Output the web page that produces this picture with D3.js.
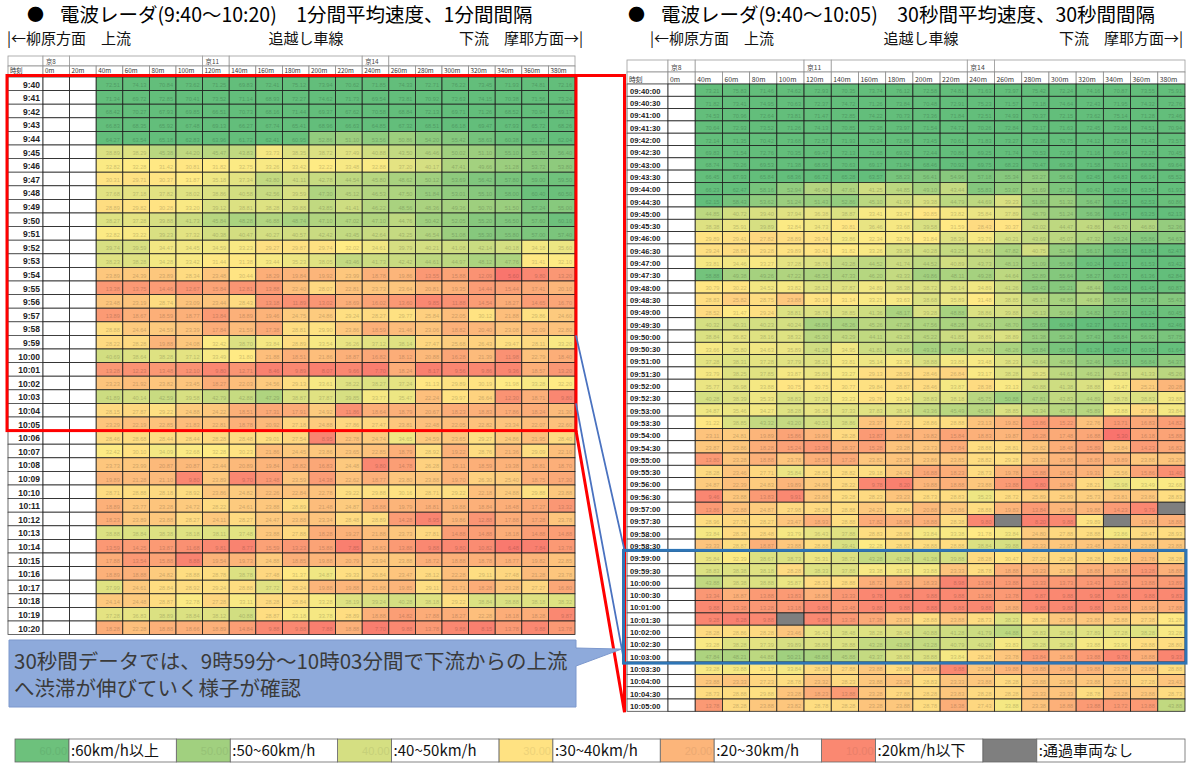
<!DOCTYPE html>
<html>
<head>
<meta charset="utf-8">
<script src="https://cdn.jsdelivr.net/npm/d3@7"></script>
<style>
  body { margin: 0; background: #fff; }
  svg { display: block; }
</style>
</head>
<body>
<svg id="chart" width="1189" height="765"></svg>
<script>
// ---- Column categories (distance from 京8) ----
const leftCols = ["0m","20m","40m","60m","80m","100m","120m","140m","160m","180m","200m","220m","240m","260m","280m","300m","320m","340m","360m","380m"];
const rightCols = ["0m","40m","60m","80m","100m","120m","140m","160m","180m","200m","220m","240m","260m","280m","300m","320m","340m","360m","380m"];
const measuredCols = ["40m","60m","80m","100m","120m","140m","160m","180m","200m","220m","240m","260m","280m","300m","320m","340m","360m","380m"];
const stationCols = ["0m","120m","240m"];
const stationNames = ["京8","京11","京14"];

// ---- 1-minute averages (km/h), 9:40-10:20 ----
const leftTimes = ["9:40","9:41","9:42","9:43","9:44","9:45","9:46","9:47","9:48","9:49","9:50","9:51","9:52","9:53","9:54","9:55","9:56","9:57","9:58","9:59","10:00","10:01","10:02","10:03","10:04","10:05","10:06","10:07","10:08","10:09","10:10","10:11","10:12","10:13","10:14","10:15","10:16","10:17","10:18","10:19","10:20"];
const leftSpeeds = [
  [72.51,74.13,70.84,73.62,71.25,69.83,72.41,75.12,73.94,70.62,71.85,74.33,72.71,76.22,73.45,71.93,74.81,72.16],
  [71.34,69.72,72.85,70.41,73.52,71.14,68.93,72.27,74.62,71.73,69.54,73.81,70.92,72.63,74.15,70.38,71.56,73.24],
  [68.42,70.27,67.93,69.85,66.51,70.73,68.16,71.44,69.37,67.62,70.58,68.84,72.13,69.71,71.26,68.52,70.94,69.17],
  [66.83,68.35,65.92,67.48,69.13,66.27,67.74,65.41,68.96,66.63,64.85,67.32,68.51,66.18,69.47,67.93,65.72,68.26],
  [64.27,63.54,65.18,62.83,63.96,61.72,62.41,60.95,52.86,51.10,53.56,50.86,54.20,55.42,58.63,60.38,61.27,62.04],
  [38.89,38.29,45.38,44.20,45.47,43.83,33.73,38.35,38.72,37.49,40.88,43.50,46.46,50.02,51.10,55.10,55.70,56.40],
  [32.82,32.28,31.42,30.81,31.82,32.75,33.26,33.42,32.22,33.48,32.88,37.20,40.17,47.41,49.66,51.28,53.72,53.80],
  [30.31,29.71,30.37,31.87,35.18,37.34,43.80,41.11,42.78,44.54,45.80,48.62,50.12,53.69,56.42,57.80,59.00,59.50],
  [37.68,37.18,37.82,38.02,38.86,40.58,42.56,39.59,47.30,45.12,46.53,47.50,51.84,53.01,55.10,58.00,60.40,60.50],
  [28.89,29.82,30.28,33.20,39.12,38.81,38.28,39.88,43.85,41.41,46.22,48.56,48.36,49.36,50.70,51.50,57.24,55.00],
  [38.27,37.28,39.88,41.73,45.84,48.28,46.88,48.74,47.10,47.02,47.10,44.76,50.42,52.05,55.20,56.50,57.60,60.10],
  [32.82,33.22,39.23,37.32,40.38,40.47,40.27,40.57,42.42,43.45,42.64,43.25,46.54,51.08,55.30,55.80,57.00,57.40],
  [39.74,39.59,34.47,34.45,34.59,33.23,29.27,29.87,29.74,32.02,34.61,39.79,40.21,41.08,42.14,40.18,34.18,35.60],
  [38.23,38.28,34.28,33.42,31.44,31.38,33.44,35.23,38.05,43.46,41.73,42.42,44.61,44.97,48.12,47.76,31.41,32.10],
  [23.89,24.39,23.89,28.34,23.48,30.44,18.29,19.84,19.92,23.99,18.78,19.86,13.55,15.88,12.09,5.60,9.80,13.20],
  [13.38,13.75,14.46,12.67,15.84,12.81,13.88,22.40,28.07,22.81,23.73,23.64,20.81,19.35,14.44,15.44,17.41,20.10],
  [23.48,23.19,28.74,23.09,23.44,28.43,13.18,11.89,13.02,18.69,16.02,13.60,9.85,11.88,14.54,18.27,14.65,16.70],
  [13.89,18.67,18.59,18.77,13.84,18.89,19.46,24.75,24.86,29.24,28.27,29.77,25.84,22.05,30.12,21.88,29.86,24.60],
  [28.88,24.64,24.59,23.39,17.84,21.59,17.38,28.81,29.90,23.86,18.59,21.46,23.06,18.82,20.40,23.08,22.09,22.80],
  [28.22,28.28,19.88,24.08,32.42,38.70,33.84,28.89,33.54,36.26,37.12,38.14,27.47,25.68,26.43,29.47,28.11,33.20],
  [40.69,38.64,38.28,37.12,33.49,31.80,21.88,18.51,21.86,18.87,16.82,18.12,20.88,16.28,21.39,11.98,22.79,18.40],
  [13.28,12.23,13.48,12.10,9.80,12.71,8.46,9.89,8.07,9.66,7.70,18.24,8.17,9.56,9.86,9.36,18.57,13.20],
  [23.23,21.92,23.82,23.45,18.27,22.03,24.56,29.13,33.61,38.22,38.27,37.24,31.13,29.89,30.19,31.98,33.28,32.20],
  [41.89,40.14,42.59,39.58,42.79,42.88,47.29,38.87,37.87,39.85,33.77,35.47,22.24,29.97,26.64,12.30,18.71,9.80],
  [28.15,27.87,29.22,24.88,24.22,18.51,17.31,17.91,24.92,11.86,18.64,18.79,20.67,18.23,18.83,17.86,18.24,21.30],
  [23.29,22.19,22.85,21.83,22.81,18.78,20.92,27.18,24.88,27.86,27.47,23.81,22.48,22.05,22.82,23.34,22.07,22.60],
  [28.46,28.68,28.44,28.44,28.28,28.48,29.01,27.54,8.95,22.78,24.74,34.65,24.59,23.65,29.27,24.86,21.95,28.40],
  [32.42,30.10,34.09,32.68,32.28,30.23,21.86,24.45,23.86,23.65,22.85,18.79,28.92,19.22,28.76,21.36,29.09,22.10],
  [23.73,23.99,20.87,20.87,23.44,20.89,19.84,18.82,16.83,24.48,9.80,14.78,26.28,19.11,18.59,19.38,18.81,18.70],
  [19.89,21.28,21.10,9.80,23.89,9.70,13.48,23.59,14.38,22.62,18.77,23.80,23.88,19.70,26.30,25.40,18.75,17.30],
  [28.71,28.88,28.18,28.92,23.86,24.82,22.26,22.84,22.78,29.22,29.88,30.16,28.71,29.22,22.18,24.88,29.88,23.88],
  [18.89,23.77,23.28,24.72,28.22,24.61,23.88,28.89,21.48,24.87,18.88,19.79,18.81,19.88,18.84,18.48,17.27,13.32],
  [18.23,23.89,23.88,28.27,24.11,28.27,24.47,23.88,23.34,28.48,28.89,14.28,8.95,19.86,12.88,17.88,17.28,23.78],
  [38.88,38.84,38.38,38.18,38.11,37.48,23.88,27.88,18.28,19.27,21.88,23.73,27.81,14.88,14.88,18.18,14.88,14.88],
  [13.59,14.25,13.87,11.68,9.81,8.77,15.59,13.23,15.88,7.85,18.83,13.88,9.88,9.80,10.82,6.48,7.84,13.78],
  [17.88,13.54,15.88,8.88,19.54,19.73,24.88,18.85,19.88,20.79,23.94,23.88,18.72,18.88,18.78,18.77,19.82,22.85],
  [18.89,18.88,24.82,28.88,28.78,38.78,27.48,31.37,34.87,29.33,26.84,23.47,28.12,22.28,29.11,27.48,21.28,23.78],
  [37.99,24.61,28.84,28.92,29.24,28.88,37.72,28.24,19.88,19.88,21.88,19.85,29.11,21.71,18.28,23.28,27.27,16.80],
  [24.14,24.48,28.87,32.78,27.28,33.11,28.28,28.84,33.28,38.19,39.24,40.28,38.18,29.22,38.84,38.88,38.18,38.32],
  [37.28,36.83,38.89,38.84,38.12,40.88,28.87,33.18,33.78,28.89,18.88,14.82,17.88,18.27,22.28,18.18,18.28,9.87],
  [18.28,22.28,18.88,18.66,18.89,14.84,9.88,9.88,7.88,18.88,7.70,9.88,13.78,9.88,8.15,13.78,9.88,13.78]
];

// ---- 30-second averages (km/h), 9:40:00-10:05:00; null = no vehicle passed ----
const rightTimes = ["09:40:00","09:40:30","09:41:00","09:41:30","09:42:00","09:42:30","09:43:00","09:43:30","09:44:00","09:44:30","09:45:00","09:45:30","09:46:00","09:46:30","09:47:00","09:47:30","09:48:00","09:48:30","09:49:00","09:49:30","09:50:00","09:50:30","09:51:00","09:51:30","09:52:00","09:52:30","09:53:00","09:53:30","09:54:00","09:54:30","09:55:00","09:55:30","09:56:00","09:56:30","09:57:00","09:57:30","09:58:00","09:58:30","09:59:00","09:59:30","10:00:00","10:00:30","10:01:00","10:01:30","10:02:00","10:02:30","10:03:00","10:03:30","10:04:00","10:04:30","10:05:00"];
const rightSpeeds = [
  [73.21,75.83,71.46,74.62,72.93,70.35,73.74,76.12,72.58,74.81,71.63,73.97,75.42,72.24,74.16,70.87,73.55,75.91],
  [71.82,73.41,74.95,70.63,72.37,74.72,71.26,73.84,70.48,72.91,75.23,71.57,73.18,74.64,72.43,71.95,74.32,72.76],
  [74.53,70.96,72.64,73.81,71.47,72.85,74.22,70.73,73.36,71.84,72.51,74.93,70.37,72.15,73.62,75.14,71.28,73.46],
  [70.64,72.93,73.52,71.26,74.13,70.85,72.38,73.97,71.54,74.72,70.26,72.84,73.17,71.63,72.45,73.86,74.51,70.94],
  [72.14,71.35,70.42,73.68,72.57,71.93,70.24,72.86,73.45,70.61,71.83,73.27,72.36,70.75,74.12,72.68,71.43,73.57],
  [69.83,71.54,72.76,70.35,69.47,72.13,71.68,69.92,72.44,70.86,69.25,71.74,70.53,72.97,71.16,69.64,72.28,70.45],
  [68.74,70.26,69.53,71.38,68.95,70.63,69.17,71.84,68.46,70.92,69.75,68.23,70.47,69.36,71.58,70.13,68.82,69.64],
  [66.45,67.93,65.84,68.36,66.72,65.28,63.57,58.23,56.41,54.96,57.18,55.34,53.27,58.62,62.45,64.83,66.14,65.52],
  [66.23,62.47,58.16,52.94,46.40,47.61,41.25,44.85,49.10,43.44,55.83,53.07,51.69,57.21,60.42,62.86,63.54,61.93],
  [62.15,58.43,53.62,51.24,51.43,52.86,45.10,41.09,39.38,44.79,44.69,39.23,51.80,51.32,56.47,61.25,62.53,60.86],
  [44.85,40.72,39.40,37.94,36.38,38.87,33.41,33.47,30.85,33.82,35.84,37.89,48.79,51.24,56.36,61.47,63.25,62.13],
  [38.38,35.91,39.89,32.84,34.73,30.81,36.46,33.68,39.58,31.59,28.43,30.37,43.02,44.47,43.86,46.70,46.80,52.36],
  [29.89,29.41,27.82,28.89,29.74,33.86,32.34,32.76,31.84,38.39,33.79,40.21,43.69,45.07,47.32,53.24,55.86,54.63],
  [29.24,28.89,29.28,29.89,30.41,31.82,33.26,39.38,40.28,43.25,41.86,47.82,40.75,52.44,56.17,60.35,61.84,62.47],
  [33.81,34.46,33.27,37.28,38.76,43.28,44.52,41.74,44.52,40.89,43.73,48.13,51.09,55.86,60.24,62.17,61.53,63.42],
  [58.88,49.38,49.26,47.22,48.35,47.33,46.20,43.33,49.86,48.11,49.28,44.64,52.89,55.64,58.27,60.73,61.36,62.84],
  [30.79,30.22,34.52,33.82,38.12,37.87,34.89,38.38,38.72,38.14,34.89,41.26,53.43,55.21,48.44,60.26,61.45,60.87],
  [28.83,25.82,28.75,23.88,30.19,31.14,33.21,33.63,38.68,35.89,31.48,38.85,45.17,48.89,46.89,53.85,57.28,55.43],
  [28.52,31.47,29.24,38.81,38.78,38.85,41.36,48.17,39.28,48.88,38.86,39.88,45.13,50.66,54.82,57.93,61.24,60.45],
  [40.32,40.31,40.23,40.24,48.89,48.26,45.26,47.28,47.56,48.28,46.23,48.70,55.63,60.84,62.37,61.72,63.15,62.46],
  [38.84,36.82,38.16,38.32,45.30,43.29,44.11,43.28,45.22,41.85,38.89,38.89,51.38,55.26,57.43,58.84,56.92,57.75],
  [33.66,35.80,34.63,35.89,41.28,34.95,41.81,43.66,49.31,47.86,44.70,48.26,53.84,58.03,61.26,62.47,60.93,61.64],
  [37.28,38.31,37.28,37.79,38.21,33.81,35.14,33.38,38.88,33.88,33.48,38.23,43.64,48.88,52.46,55.13,56.84,54.37],
  [33.79,38.25,37.85,33.87,35.89,33.27,29.13,28.59,28.46,26.84,33.17,38.28,38.25,44.61,46.21,43.38,41.33,45.26],
  [35.77,36.98,33.88,30.75,30.75,30.77,29.84,28.87,28.46,33.87,28.38,33.13,40.88,41.38,38.88,33.47,25.21,20.28],
  [40.28,38.39,35.33,38.83,37.33,33.23,29.76,33.34,38.83,38.18,45.75,50.88,47.81,43.83,44.89,38.78,38.83,33.88],
  [34.87,35.46,34.27,38.28,36.38,37.33,37.83,38.14,43.36,45.49,45.83,38.85,43.34,45.73,45.89,33.88,27.88,33.84],
  [31.22,38.85,43.32,43.20,40.53,38.86,23.37,27.23,28.86,28.88,23.13,19.82,13.86,15.22,22.76,13.71,16.83,14.82],
  [23.11,24.81,19.89,15.86,19.89,28.28,13.87,18.89,19.82,15.84,18.83,19.87,16.28,17.48,16.88,5.30,16.18,15.88],
  [23.87,23.86,18.28,15.24,13.38,18.37,15.28,23.28,23.73,17.84,28.88,28.81,23.82,18.48,15.89,23.84,14.23,16.82],
  [13.80,23.28,18.88,23.78,18.53,17.29,23.82,23.28,23.86,23.85,28.82,29.28,23.33,19.88,18.89,19.89,23.88,23.29],
  [28.28,23.46,27.71,35.84,28.85,28.82,29.18,24.43,16.88,18.23,28.73,19.78,15.88,18.62,19.31,25.56,15.86,11.40],
  [24.87,22.39,24.83,19.89,24.88,28.22,9.78,8.20,19.88,18.88,23.88,13.88,9.80,18.84,28.21,35.98,33.49,32.68],
  [9.46,23.88,13.83,9.91,23.88,29.28,28.23,23.23,28.73,28.83,35.23,28.72,25.89,25.89,25.73,23.81,23.86,28.83],
  [13.86,22.88,24.87,27.98,28.28,28.88,24.23,27.84,20.88,23.86,28.88,19.83,13.84,19.88,19.88,14.23,9.79,null],
  [28.96,27.78,28.27,23.47,18.93,28.88,17.82,18.88,18.88,28.38,9.80,null,8.20,9.88,29.89,null,19.88,18.88],
  [33.84,28.38,28.48,33.79,36.43,37.88,28.83,28.88,33.84,33.38,31.78,33.84,24.80,27.88,28.88,33.86,28.47,28.93],
  [23.33,28.87,18.87,23.88,28.88,39.41,32.28,28.83,28.88,28.88,38.84,39.88,23.33,23.87,23.48,23.28,23.88,23.88],
  [35.84,32.39,38.67,38.73,35.31,38.72,43.28,41.28,41.38,39.88,28.28,30.47,27.23,28.28,28.28,28.89,21.78,28.28],
  [38.83,38.38,38.18,28.28,38.33,37.88,33.38,33.83,33.88,23.33,28.78,18.88,19.23,23.88,18.88,18.88,13.28,18.88],
  [43.88,38.38,38.88,35.87,28.33,28.88,18.72,18.33,18.33,8.98,13.88,13.88,13.33,13.73,13.43,13.28,13.88,13.89],
  [13.34,18.87,13.88,13.83,18.88,13.33,9.78,9.88,9.88,9.88,13.88,13.78,9.87,9.88,9.98,9.88,9.88,9.83],
  [9.88,13.38,13.28,13.18,9.88,13.48,9.88,9.88,8.88,9.88,9.88,18.88,9.88,9.88,9.88,13.88,18.98,17.88],
  [9.28,8.28,9.88,null,9.88,13.38,17.38,23.83,28.88,23.88,28.73,38.23,28.38,23.88,23.88,25.88,27.38,31.28],
  [28.28,28.86,28.28,23.46,36.43,38.48,38.28,38.48,40.88,41.28,41.79,44.88,38.83,38.89,37.89,37.28,38.28,33.28],
  [33.28,38.28,37.39,39.89,38.88,38.88,43.28,43.88,43.28,40.79,40.28,33.83,38.28,38.28,33.88,33.96,28.88,28.80],
  [47.84,48.21,44.88,50.21,48.88,45.88,43.37,38.88,38.88,33.84,28.28,23.78,13.84,18.88,13.88,9.78,18.88,9.33],
  [33.28,33.88,31.17,33.84,28.33,27.88,23.88,28.88,23.88,9.88,23.88,19.88,19.88,19.88,19.88,23.38,23.88,28.88],
  [23.88,23.33,27.23,28.78,23.32,28.23,23.88,23.28,28.83,23.33,23.88,28.28,23.88,23.88,23.88,23.71,27.28,23.43],
  [28.73,28.88,29.88,23.28,18.23,13.88,23.28,27.88,28.28,23.83,28.28,28.28,23.33,23.33,28.78,23.28,23.88,28.73],
  [13.78,28.28,23.88,23.82,28.78,28.28,23.28,23.88,28.78,18.38,27.43,33.88,23.38,18.88,13.88,13.72,13.88,43.88]
];

// ---- Legend ----
const legendValues = [60, 50, 40, 30, 20, 10, null];
const legendLabels = [":60km/h以上", ":50~60km/h", ":40~50km/h", ":30~40km/h", ":20~30km/h", ":20km/h以下", ":通過車両なし"];

const annotationLines = ["30秒間データでは、9時59分～10時03分間で下流からの上流", "へ渋滞が伸びていく様子が確認"];

// ---- Shared styling ----
const jpFont = '"Noto Sans CJK JP", "Noto Sans", sans-serif';
const numFont = '"Liberation Sans", Arial, sans-serif';
const noDataColor = "#7f7f7f";
const speedColor = d3.scaleLinear()
  .domain([3, 32, 62])
  .range(["#F8696B", "#FFEB84", "#63BE7B"])
  .clamp(true);
const fillFor = v => (v === null ? noDataColor : speedColor(v));

const svg = d3.select("#chart");

function drawHeading(cfg) {
  const g = svg.append("g");
  g.append("text").attr("x", cfg.bulletX).attr("y", 21)
    .attr("font-family", jpFont).attr("font-size", 17).attr("fill", "#000").text("●");
  g.append("text").attr("x", cfg.titleX).attr("y", 22)
    .attr("font-family", jpFont).attr("font-size", 19.5).attr("fill", "#000").text(cfg.title);
  const sub = [
    { x: cfg.subLeft, anchor: "start", t: "|←柳原方面　上流" },
    { x: cfg.subMid, anchor: "middle", t: "追越し車線" },
    { x: cfg.subRight, anchor: "end", t: "下流　摩耶方面→|" }
  ];
  g.selectAll("text.sub").data(sub).join("text").attr("class", "sub")
    .attr("x", d => d.x).attr("y", 44).attr("text-anchor", d => d.anchor)
    .attr("font-family", jpFont).attr("font-size", 15).attr("fill", "#111")
    .text(d => d.t);
}

function drawTable(cfg) {
  const g = svg.append("g");
  const rowBottom = cfg.rowTop + cfg.rowH * cfg.times.length;
  const x = d3.scaleBand().domain(cfg.cols).range([cfg.colStart, cfg.colEnd]);
  const y = d3.scaleBand().domain(cfg.times).range([cfg.rowTop, rowBottom]);
  const bw = x.bandwidth(), bh = y.bandwidth();
  const h1Top = cfg.rowTop - cfg.hdr2H - cfg.hdr1H;
  const h2Top = cfg.rowTop - cfg.hdr2H;

  // station header row: station cells with merged blanks between them
  const segs = [{ x0: cfg.left, x1: cfg.colStart, label: "" }];
  let open = null;
  cfg.cols.forEach(c => {
    const k = stationCols.indexOf(c);
    if (k >= 0) {
      if (open !== null) { segs.push({ x0: open, x1: x(c), label: "" }); open = null; }
      segs.push({ x0: x(c), x1: x(c) + bw, label: stationNames[k] });
    } else if (open === null) {
      open = x(c);
    }
  });
  if (open !== null) segs.push({ x0: open, x1: cfg.colEnd, label: "" });

  g.selectAll("rect.h1").data(segs).join("rect").attr("class", "h1")
    .attr("x", d => d.x0).attr("y", h1Top).attr("width", d => d.x1 - d.x0).attr("height", cfg.hdr1H)
    .attr("fill", "#fff").attr("stroke", "#9c9c9c").attr("stroke-width", 0.8);
  g.selectAll("text.h1").data(segs.filter(d => d.label)).join("text").attr("class", "h1")
    .attr("x", d => d.x0 + 3).attr("y", h1Top + cfg.hdr1H - 2.5)
    .attr("font-family", jpFont).attr("font-size", cfg.hdrFont).attr("fill", "#444")
    .text(d => d.label);

  // distance header row
  const h2 = [{ x0: cfg.left, w: cfg.colStart - cfg.left, label: "時刻" }]
    .concat(cfg.cols.map(c => ({ x0: x(c), w: bw, label: c })));
  g.selectAll("rect.h2").data(h2).join("rect").attr("class", "h2")
    .attr("x", d => d.x0).attr("y", h2Top).attr("width", d => d.w).attr("height", cfg.hdr2H)
    .attr("fill", "#fff").attr("stroke", "#8c8c8c").attr("stroke-width", 0.8);
  g.selectAll("text.h2").data(h2).join("text").attr("class", "h2")
    .attr("x", d => d.x0 + 2).attr("y", h2Top + cfg.hdr2H - cfg.hdr2Base)
    .attr("font-family", jpFont).attr("font-size", cfg.hdrFont).attr("fill", "#333")
    .text(d => d.label);

  // time column
  g.selectAll("rect.tc").data(cfg.times).join("rect").attr("class", "tc")
    .attr("x", cfg.left).attr("y", d => y(d)).attr("width", cfg.colStart - cfg.left).attr("height", bh)
    .attr("fill", "#fff").attr("stroke", "#444").attr("stroke-width", 0.8);
  g.selectAll("text.tc").data(cfg.times).join("text").attr("class", "tc")
    .attr("x", cfg.timeAnchor === "end" ? cfg.colStart - 3 : cfg.left + 3)
    .attr("y", d => y(d) + bh - cfg.timeBase)
    .attr("text-anchor", cfg.timeAnchor)
    .attr("font-family", numFont).attr("font-size", cfg.timeFont).attr("font-weight", "bold")
    .attr("fill", "#222").text(d => d);

  // speed cells
  const cells = [];
  cfg.times.forEach((t, i) => {
    cfg.cols.forEach(c => {
      const m = measuredCols.indexOf(c);
      cells.push({ t, c, measured: m >= 0, v: m >= 0 ? cfg.speeds[i][m] : undefined });
    });
  });
  g.selectAll("rect.cell").data(cells).join("rect").attr("class", "cell")
    .attr("x", d => x(d.c)).attr("y", d => y(d.t)).attr("width", bw).attr("height", bh)
    .attr("fill", d => (d.measured ? fillFor(d.v) : "#fff"))
    .attr("stroke", "#1e1e1e").attr("stroke-width", 0.8);
  g.selectAll("text.cell").data(cells.filter(d => d.measured && d.v !== null)).join("text").attr("class", "cell")
    .attr("x", d => x(d.c) + bw - 3).attr("y", d => y(d.t) + bh - cfg.cellBase)
    .attr("text-anchor", "end")
    .attr("font-family", numFont).attr("font-size", 5.6)
    .attr("fill", d => d3.color(speedColor(d.v)).darker(0.55).formatHex())
    .text(d => d.v.toFixed(2));

  return { x, y, bw, bh };
}

drawHeading({
  bulletX: 27, titleX: 60,
  title: "電波レーダ(9:40～10:20)　1分間平均速度、1分間間隔",
  subLeft: 7, subMid: 306, subRight: 583
});
drawHeading({
  bulletX: 628, titleX: 661,
  title: "電波レーダ(9:40～10:05)　30秒間平均速度、30秒間間隔",
  subLeft: 650, subMid: 921, subRight: 1183
});

const L = drawTable({
  left: 8, colStart: 43, colEnd: 575,
  rowTop: 77, rowH: 13.6, hdr1H: 10, hdr2H: 11, hdr2Base: 4, hdrFont: 6.3,
  cols: leftCols, times: leftTimes, speeds: leftSpeeds,
  timeAnchor: "end", timeFont: 8.5, timeBase: 3, cellBase: 3.5
});
const R = drawTable({
  left: 627, colStart: 668, colEnd: 1185,
  rowTop: 84, rowH: 12.3, hdr1H: 12, hdr2H: 12, hdr2Base: 2.5, hdrFont: 6.8,
  cols: rightCols, times: rightTimes, speeds: rightSpeeds,
  timeAnchor: "start", timeFont: 7.6, timeBase: 2.5, cellBase: 3
});

// ---- Highlight frames and connectors ----
const ov = svg.append("g");
const redTop = L.y("9:40") - 1.5, redBot = L.y("10:05") + L.bh;
const redRight = L.x("380m") + L.bw + 1;
const linkX = 624.5;
const rightBottom = R.y("10:05:00") + R.bh + 1;

ov.append("rect").attr("x", 7).attr("y", redTop).attr("width", redRight - 7).attr("height", redBot - redTop)
  .attr("fill", "none").attr("stroke", "#ff0000").attr("stroke-width", 3);
ov.append("path")
  .attr("d", `M${redRight},${redTop}L${linkX},${redTop}L${linkX},${rightBottom}L${redRight},${redBot}`)
  .attr("fill", "none").attr("stroke", "#ff0000").attr("stroke-width", 3).attr("stroke-linejoin", "miter");

const blueTop = R.y("09:59:00") - 1, blueBot = R.y("10:03:00") + R.bh + 1;
const leftBlueTop = L.y("9:59"), leftBlueBot = L.y("10:03") + L.bh;
ov.append("path")
  .attr("d", `M${redRight},${leftBlueTop}L${linkX},${blueTop}M${redRight},${leftBlueBot}L${linkX},${blueBot}`)
  .attr("fill", "none").attr("stroke", "#4a72c0").attr("stroke-width", 1.8);
ov.append("rect").attr("x", linkX - 1).attr("y", blueTop).attr("width", 1187 - linkX).attr("height", blueBot - blueTop)
  .attr("fill", "none").attr("stroke", "#2e75b6").attr("stroke-width", 3);

// ---- Callout ----
const co = svg.append("g");
co.append("path")
  .attr("d", `M9,640H576V648L${linkX - 3},${blueBot - 14}L576,666V707H9Z`)
  .attr("fill", "#8eaadb").attr("stroke", "#7c98cd").attr("stroke-width", 1);
co.selectAll("text").data(annotationLines).join("text")
  .attr("x", 14).attr("y", (d, i) => 669 + i * 27)
  .attr("font-family", jpFont).attr("font-size", 20.5).attr("fill", "#3a3a3a")
  .text(d => d);

// ---- Legend ----
const lg = svg.append("g");
const itemX = d3.scaleBand().domain(d3.range(legendValues.length)).range([15, 15 + 161.3 * legendValues.length]);
const swW = 54, lgTop = 739, lgH = 23;
const items = legendValues.map((v, i) => ({ v, label: legendLabels[i], x0: itemX(i) }));
lg.selectAll("rect.sw").data(items).join("rect").attr("class", "sw")
  .attr("x", d => d.x0).attr("y", lgTop).attr("width", swW).attr("height", lgH)
  .attr("fill", d => fillFor(d.v)).attr("stroke", "#666").attr("stroke-width", 0.8);
lg.selectAll("text.sw").data(items.filter(d => d.v !== null)).join("text").attr("class", "sw")
  .attr("x", d => d.x0 + swW - 2).attr("y", lgTop + 16).attr("text-anchor", "end")
  .attr("font-family", numFont).attr("font-size", 11)
  .attr("fill", d => d3.color(speedColor(d.v)).darker(0.2).formatHex())
  .text(d => d.v.toFixed(2));
lg.selectAll("rect.lb").data(items).join("rect").attr("class", "lb")
  .attr("x", d => d.x0 + swW).attr("y", lgTop)
  .attr("width", (d, i) => (i === items.length - 1 ? 1185 - d.x0 - swW : itemX.bandwidth() - swW))
  .attr("height", lgH)
  .attr("fill", "#fff").attr("stroke", "#666").attr("stroke-width", 0.8);
lg.selectAll("text.lb").data(items).join("text").attr("class", "lb")
  .attr("x", d => d.x0 + swW + 2).attr("y", lgTop + 17)
  .attr("font-family", jpFont).attr("font-size", 15).attr("fill", "#111")
  .text(d => d.label);
</script>
</body>
</html>
